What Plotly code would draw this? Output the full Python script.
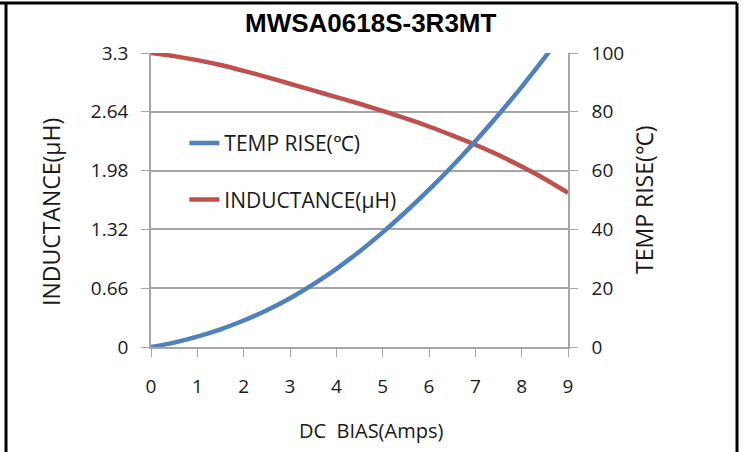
import plotly.graph_objects as go

# ---- data ----
dc_bias = [0, 0.5, 1, 1.5, 2, 2.5, 3, 3.5, 4, 4.5, 5, 5.5, 6, 6.5, 7, 7.5, 8, 8.5, 9]
temp_rise = [0, 1.5, 3.5, 6.0, 9.0, 12.5, 16.6, 21.3, 26.6, 32.5, 39.0, 46.0, 53.5,
             61.5, 70.0, 79.0, 88.5, 98.5, 109.0]
inductance = [3.30, 3.265, 3.22, 3.165, 3.10, 3.03, 2.955, 2.88, 2.805, 2.73, 2.65,
              2.565, 2.475, 2.375, 2.27, 2.155, 2.025, 1.885, 1.73]

x_ticks = [0, 1, 2, 3, 4, 5, 6, 7, 8, 9]
ind_ticks = [0, 0.66, 1.32, 1.98, 2.64, 3.3]
ind_tick_text = ["0", "0.66", "1.32", "1.98", "2.64", "3.3"]
temp_ticks = [0, 20, 40, 60, 80, 100]

title_text = "MWSA0618S-3R3MT"
x_title = "DC\u00a0 BIAS(Amps)"
y_title = "INDUCTANCE(μH)"
y2_title = "TEMP RISE(℃)"

BLUE = "#4f81bd"
RED = "#c0504d"
GRID = "#a6a6a6"
FONT = "Open Sans"
TXT = "#1a1a1a"

fig = go.Figure()
fig.add_trace(go.Scatter(x=dc_bias, y=temp_rise, yaxis="y2", mode="lines",
                         name="TEMP RISE(℃)", legendgroup="a",
                         line=dict(color=BLUE, width=4.5, shape="spline", smoothing=0.8)))
fig.add_trace(go.Scatter(x=dc_bias, y=inductance, yaxis="y", mode="lines",
                         name="INDUCTANCE(μH)", legendgroup="b",
                         line=dict(color=RED, width=4.5, shape="spline", smoothing=0.8)))

fig.update_layout(
    width=744, height=452,
    margin=dict(l=151, r=176, t=53, b=105),
    paper_bgcolor="white", plot_bgcolor="white",
    font=dict(family=FONT, size=19, color=TXT),
    showlegend=True,
    legend=dict(x=0.08, y=0.762, xanchor="left", yanchor="top",
                bgcolor="rgba(0,0,0,0)", font=dict(size=21, family=FONT, color=TXT),
                tracegroupgap=26),
    xaxis=dict(range=[0, 9], tickvals=x_ticks, ticks="outside", ticklen=8,
               tickcolor=GRID, showline=True, linecolor=GRID, linewidth=1.5,
               showgrid=False, zeroline=False, ticklabelstandoff=13,
               tickfont=dict(size=19, family=FONT, color=TXT)),
    yaxis=dict(range=[0, 3.3], tickvals=ind_ticks, ticktext=ind_tick_text,
               ticks="outside", ticklen=8, tickcolor=GRID, showline=True,
               linecolor=GRID, linewidth=1.5, showgrid=True, gridcolor=GRID,
               gridwidth=1.5, zeroline=False, ticklabelstandoff=9,
               tickfont=dict(size=19, family=FONT, color=TXT)),
    yaxis2=dict(range=[0, 100], tickvals=temp_ticks, overlaying="y", side="right",
                ticks="outside", ticklen=8, tickcolor=GRID, showline=True,
                linecolor=GRID, linewidth=1.5, showgrid=False, zeroline=False,
                ticklabelstandoff=10, tickfont=dict(size=19, family=FONT, color=TXT)),
)

# titles as annotations
fig.add_annotation(text=f"<b>{title_text}</b>", xref="paper", yref="paper",
                   x=(371 - 151) / 417, y=(347 - 23) / 294, showarrow=False,
                   xanchor="center", yanchor="middle",
                   font=dict(family="Liberation Sans", size=26, color="black"))
fig.add_annotation(text=x_title, xref="paper", yref="paper",
                   x=(371 - 151) / 417, y=(347 - 430) / 294, showarrow=False,
                   xanchor="center", yanchor="middle",
                   font=dict(family=FONT, size=20, color=TXT))
fig.add_annotation(text=y_title, xref="paper", yref="paper",
                   x=(51 - 151) / 417, y=(347 - 212) / 294, showarrow=False,
                   textangle=-90, xanchor="center", yanchor="middle",
                   font=dict(family=FONT, size=23, color=TXT))
fig.add_annotation(text=y2_title, xref="paper", yref="paper",
                   x=(644 - 151) / 417, y=(347 - 200) / 294, showarrow=False,
                   textangle=-90, xanchor="center", yanchor="middle",
                   font=dict(family=FONT, size=23, color=TXT))

# outer frame lines (black border of the figure image)
def px_x(px):
    return (px - 151) / 417

def px_y(py):
    return (347 - py) / 294

for x0, y0, x1, y1 in [(0, 3, 737, 3), (6, 3, 6, 460), (737, 3, 737, 460)]:
    fig.add_shape(type="line", xref="paper", yref="paper",
                  x0=px_x(x0), y0=px_y(y0), x1=px_x(x1), y1=px_y(y1),
                  line=dict(color="black", width=3))

fig.write_html("out.html", config={"displayModeBar": False},
               post_script="document.body.style.margin='0px';document.body.style.overflow='hidden';")
